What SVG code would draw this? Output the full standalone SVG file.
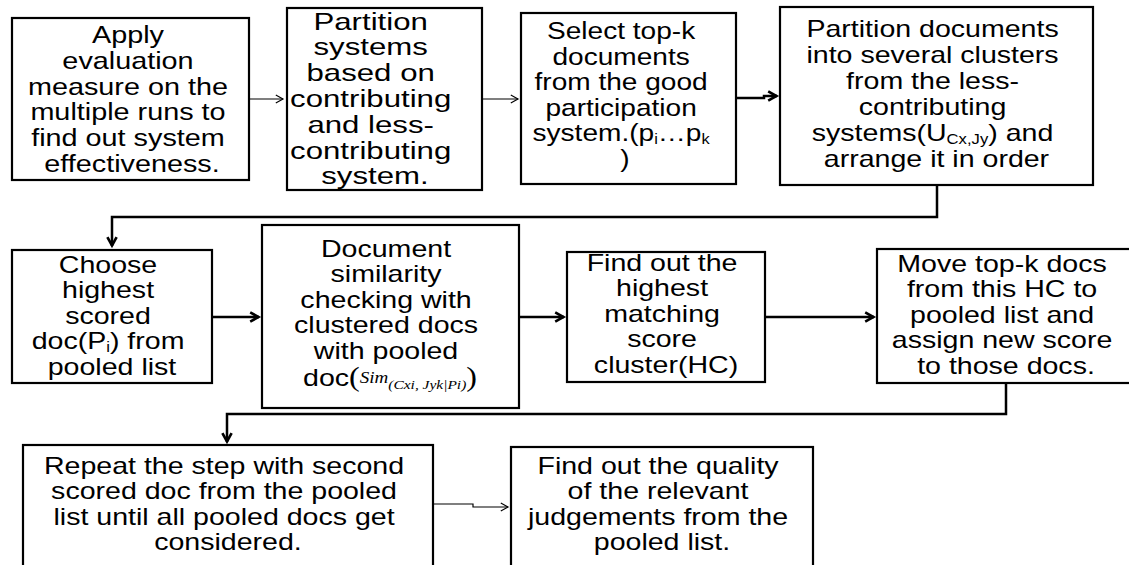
<svg xmlns="http://www.w3.org/2000/svg" width="1129" height="565" viewBox="0 0 1129 565">
<style>
  .box { fill: #ffffff; stroke: #000000; stroke-width: 2.2; }
  .t { font-family: "Liberation Sans", Arial, sans-serif; font-size: 24px; fill: #000000; text-anchor: middle; }
  .m { font-family: "Liberation Serif", "Times New Roman", serif; }
  .thin { fill: none; stroke: #000000; stroke-width: 1.2; }
  .thick { fill: none; stroke: #000000; stroke-width: 2.5; }
</style>
<defs>
  <marker id="ahs" viewBox="0 0 10 10" refX="9" refY="5" markerWidth="9" markerHeight="9" markerUnits="userSpaceOnUse" orient="auto" overflow="visible">
    <path d="M1,0.5 L9,5 L1,9.5" fill="none" stroke="#000" stroke-width="1.3"/>
  </marker>
  <marker id="ah" viewBox="0 0 10 10" refX="9" refY="5" markerWidth="11" markerHeight="11" markerUnits="userSpaceOnUse" orient="auto" overflow="visible">
    <path d="M1,0.8 L8.5,5 L1,9.2" fill="none" stroke="#000" stroke-width="2.4"/>
  </marker>
</defs>
<rect width="1129" height="565" fill="#ffffff"/>

<g id="connectors">
  <path class="thin" d="M249,99 H283" marker-end="url(#ahs)"/>
  <path class="thin" d="M482,99 H518" marker-end="url(#ahs)"/>
  <path class="thick" d="M736,98 H764 V96 H777" marker-end="url(#ah)"/>
  <path class="thick" d="M937,185 V217 H112 V246" marker-end="url(#ah)"/>
  <path class="thick" d="M212,317 H259" marker-end="url(#ah)"/>
  <path class="thick" d="M519,317 H564" marker-end="url(#ah)"/>
  <path class="thick" d="M765,317 H874" marker-end="url(#ah)"/>
  <path class="thick" d="M1006,383 V414 H227 V442" marker-end="url(#ah)"/>
  <path class="thin" d="M433,504 H473 V507 H508" marker-end="url(#ahs)"/>
</g>

<g id="node1">
  <rect class="box" x="12" y="18" width="237" height="162"/>
  <text class="t" transform="translate(132 0) scale(1.2 1)">
    <tspan x="0" y="43">Apply</tspan>
    <tspan x="0" y="68.8">evaluation</tspan>
    <tspan x="0" y="94.6">measure on the</tspan>
    <tspan x="0" y="120.4">multiple runs to</tspan>
    <tspan x="0" y="146.2">find out system</tspan>
    <tspan x="0" y="172">effectiveness.</tspan>
  </text>
</g>

<g id="node2">
  <rect class="box" x="287" y="8" width="195" height="182"/>
  <text class="t" transform="translate(375 0) scale(1.3 1)">
    <tspan x="0" y="29.6">Partition</tspan>
    <tspan x="0" y="55.4">systems</tspan>
    <tspan x="0" y="81.2">based on</tspan>
    <tspan x="0" y="107">contributing</tspan>
    <tspan x="0" y="132.8">and less-</tspan>
    <tspan x="0" y="158.6">contributing</tspan>
    <tspan x="0" y="184.4">system.</tspan>
  </text>
</g>

<g id="node3">
  <rect class="box" x="521" y="13" width="215" height="171"/>
  <text class="t" transform="translate(625 0) scale(1.17 1)">
    <tspan x="0" y="39">Select top-k</tspan>
    <tspan x="0" y="64.6">documents</tspan>
    <tspan x="0" y="90.2">from the good</tspan>
    <tspan x="0" y="115.8">participation</tspan>
    <tspan x="0" y="141.4">system.(p<tspan font-size="14" dy="3">i</tspan><tspan dy="-3">…p</tspan><tspan font-size="14" dy="3">k</tspan></tspan>
    <tspan x="0" y="167">)</tspan>
  </text>
</g>

<g id="node4">
  <rect class="box" x="780" y="7" width="313" height="178"/>
  <text class="t" transform="translate(936.5 0) scale(1.19 1)">
    <tspan x="0" y="37">Partition documents</tspan>
    <tspan x="0" y="63">into several clusters</tspan>
    <tspan x="0" y="89">from the less-</tspan>
    <tspan x="0" y="115">contributing</tspan>
    <tspan x="0" y="141">systems(U<tspan font-size="14" dy="3">Cx,Jy</tspan><tspan dy="-3">) and</tspan></tspan>
    <tspan x="0" y="167">arrange it in order</tspan>
  </text>
</g>

<g id="node5">
  <rect class="box" x="12" y="250" width="200" height="133"/>
  <text class="t" transform="translate(112 0) scale(1.19 1)">
    <tspan x="0" y="273">Choose</tspan>
    <tspan x="0" y="298.5">highest</tspan>
    <tspan x="0" y="324">scored</tspan>
    <tspan x="0" y="349.5">doc(P<tspan font-size="14" dy="3">i</tspan><tspan dy="-3">) from</tspan></tspan>
    <tspan x="0" y="375">pooled list</tspan>
  </text>
</g>

<g id="node6">
  <rect class="box" x="262" y="225" width="257" height="183"/>
  <text class="t" transform="translate(390 0) scale(1.19 1)">
    <tspan x="0" y="257">Document</tspan>
    <tspan x="0" y="282.5">similarity</tspan>
    <tspan x="0" y="308">checking with</tspan>
    <tspan x="0" y="333.5">clustered docs</tspan>
    <tspan x="0" y="359">with pooled</tspan>
    <tspan x="0" y="386">doc<tspan class="m" font-size="27">(</tspan><tspan class="m" font-style="italic" font-size="16" dy="-3">Sim</tspan><tspan class="m" font-style="italic" font-size="13" dy="6">(Cxi, Jyk|Pi)</tspan><tspan class="m" font-size="27" dy="-3">)</tspan></tspan>
  </text>
</g>

<g id="node7">
  <rect class="box" x="567" y="252" width="198" height="130"/>
  <text class="t" transform="translate(666 0) scale(1.19 1)">
    <tspan x="0" y="271">Find out the</tspan>
    <tspan x="0" y="296.5">highest</tspan>
    <tspan x="0" y="322">matching</tspan>
    <tspan x="0" y="347.5">score</tspan>
    <tspan x="0" y="373">cluster(HC)</tspan>
  </text>
</g>

<g id="node8">
  <rect class="box" x="877" y="249" width="262" height="134"/>
  <text class="t" transform="translate(1006 0) scale(1.19 1)">
    <tspan x="0" y="272">Move top-k docs</tspan>
    <tspan x="0" y="297.5">from this HC to</tspan>
    <tspan x="0" y="323">pooled list and</tspan>
    <tspan x="0" y="348.5">assign new score</tspan>
    <tspan x="0" y="374">to those docs.</tspan>
  </text>
</g>

<g id="node9">
  <rect class="box" x="23" y="445" width="410" height="130"/>
  <text class="t" transform="translate(228 0) scale(1.19 1)">
    <tspan x="0" y="474">Repeat the step with second</tspan>
    <tspan x="0" y="499.5">scored doc from the pooled</tspan>
    <tspan x="0" y="525">list until all pooled docs get</tspan>
    <tspan x="0" y="550.5">considered.</tspan>
  </text>
</g>

<g id="node10">
  <rect class="box" x="511" y="447" width="302" height="128"/>
  <text class="t" transform="translate(662 0) scale(1.19 1)">
    <tspan x="0" y="474">Find out the quality</tspan>
    <tspan x="0" y="499.5">of the relevant</tspan>
    <tspan x="0" y="525">judgements from the</tspan>
    <tspan x="0" y="550.5">pooled list.</tspan>
  </text>
</g>
</svg>
